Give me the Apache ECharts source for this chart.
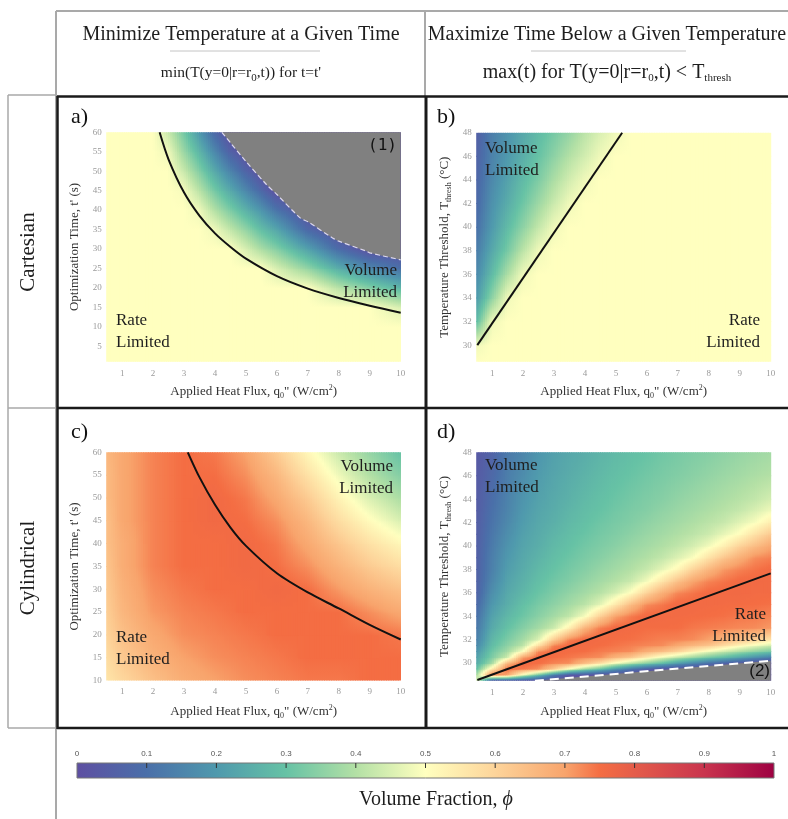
<!DOCTYPE html>
<html lang="en">
<head>
<meta charset="UTF-8">
<title>Volume fraction maps</title>
<script src="https://cdn.jsdelivr.net/npm/echarts@6/dist/echarts.min.js"></script>
<style>
  body { margin: 0; padding: 0; background: #fff; }
  #chart { width: 788px; height: 819px; }
</style>
</head>
<body>
<div id="chart"></div>
<script>
// colour scale for volume fraction
const cmapStops  = [0, 0.1, 0.2, 0.3, 0.4, 0.5, 0.6, 0.7, 0.75, 0.8, 0.9, 1];
const cmapColors = ['#5e4fa2', '#4a6fa9', '#4f99ad', '#66c2a5', '#b3e0a5', '#ffffbf',
                    '#fdd49a', '#f8a46c', '#f46d43', '#e45c4a', '#c9344e', '#9e0142'];
const cbarTickValues = [0.1, 0.2, 0.3, 0.4, 0.5, 0.6, 0.7, 0.8, 0.9];

// tick labels
const fluxTicks  = [1, 2, 3, 4, 5, 6, 7, 8, 9, 10];
const timeTicksA = [5, 10, 15, 20, 25, 30, 35, 40, 45, 50, 55, 60];
const timeTicksC = [10, 15, 20, 25, 30, 35, 40, 45, 50, 55, 60];
const tempTicks  = [30, 32, 34, 36, 38, 40, 42, 44, 46, 48];

// a) cartesian, fixed time  (rows bottom -> top, values at grid nodes)
const aX = [0.5, 1, 1.5, 2, 2.5, 3, 3.5, 4, 4.5, 5, 5.5, 6, 7, 8, 9, 10];
const aY = [1, 5, 10, 15, 20, 25, 30, 35, 40, 45, 50, 55, 60];
const aVals = [
  [.5,.5,.5,.5,.5,.5,.5,.5,.5,.5,.5,.5,.5,.5,.5,.5],
  [.5,.5,.5,.5,.5,.5,.5,.5,.5,.5,.5,.5,.5,.5,.5,.5],
  [.5,.5,.5,.5,.5,.5,.5,.5,.5,.5,.5,.5,.5,.5,.5,.5],
  [.5,.5,.5,.5,.5,.5,.5,.5,.5,.5,.5,.5,.5,.5,.5,.45],
  [.5,.5,.5,.5,.5,.5,.5,.5,.5,.5,.5,.5,.5,.41,.34,.27],
  [.5,.5,.5,.5,.5,.5,.5,.5,.5,.5,.5,.45,.36,.25,.16,.10],
  [.5,.5,.5,.5,.5,.5,.5,.5,.5,.45,.39,.34,.22,.09,0,0],
  [.5,.5,.5,.5,.5,.5,.5,.48,.42,.36,.29,.23,.08,0,0,0],
  [.5,.5,.5,.5,.5,.5,.48,.40,.33,.26,.19,.11,0,0,0,0],
  [.5,.5,.5,.5,.5,.49,.41,.32,.24,.16,.08,0,0,0,0,0],
  [.5,.5,.5,.5,.5,.43,.34,.24,.15,.07,0,0,0,0,0,0],
  [.5,.5,.5,.5,.48,.37,.27,.16,.06,0,0,0,0,0,0,0],
  [.5,.5,.5,.5,.43,.32,.20,.08,0,0,0,0,0,0,0,0]
];
const aOptimum = [[2.21,60],[2.5,53],[3,44.5],[3.5,38.5],[4,34],[4.5,30.5],[5,27.5],[6,23],[7,19.8],[8,17.4],[9,15.4],[10,13.6]];
const aNoSolution = [[4.22,60],[4.5,57.3],[5,52.5],[5.67,46.5],[6,44],[6.75,38],[7,37],[7.8,32.8],[8,32],[8.9,29.4],[9,29],[10,27.2]];

// b) cartesian, threshold temperature
const bX = [0.5, 1, 1.5, 2, 2.5, 3, 3.5, 4, 4.5, 5, 5.5, 6, 10];
const bY = [28.6, 30, 32, 34, 36, 38, 40, 42, 44, 46, 48];
const bVals = [
  [.5,.5,.5,.5,.5,.5,.5,.5,.5,.5,.5,.5,.5],
  [.48,.5,.5,.5,.5,.5,.5,.5,.5,.5,.5,.5,.5],
  [.28,.48,.5,.5,.5,.5,.5,.5,.5,.5,.5,.5,.5],
  [.20,.35,.48,.5,.5,.5,.5,.5,.5,.5,.5,.5,.5],
  [.16,.28,.39,.48,.5,.5,.5,.5,.5,.5,.5,.5,.5],
  [.13,.235,.32,.41,.48,.5,.5,.5,.5,.5,.5,.5,.5],
  [.10,.20,.28,.35,.42,.48,.5,.5,.5,.5,.5,.5,.5],
  [.08,.18,.245,.31,.37,.43,.48,.5,.5,.5,.5,.5,.5],
  [.07,.16,.22,.28,.33,.39,.44,.48,.5,.5,.5,.5,.5],
  [.06,.145,.20,.25,.30,.35,.40,.44,.48,.5,.5,.5,.5],
  [.05,.135,.185,.235,.28,.32,.36,.41,.45,.48,.5,.5,.5]
];
const bOptimum = [[0.52,30],[5.2,48]];

// c) cylindrical, fixed time
const cX = [0.5, 1, 2, 3, 4, 5, 6, 7, 8, 9, 10];
const cY = [10, 15, 20, 25, 30, 35, 40, 45, 50, 55, 60];
const cVals = [
  [.56,.59,.64,.68,.70,.72,.73,.74,.74,.75,.75],
  [.58,.62,.67,.70,.72,.73,.74,.75,.75,.75,.75],
  [.60,.64,.69,.72,.73,.74,.75,.75,.75,.75,.74],
  [.61,.66,.71,.73,.74,.75,.75,.75,.75,.72,.69],
  [.62,.67,.72,.74,.75,.75,.76,.75,.71,.67,.64],
  [.63,.68,.73,.75,.75,.76,.75,.72,.67,.62,.58],
  [.64,.68,.73,.75,.75,.76,.74,.69,.63,.57,.52],
  [.64,.69,.73,.75,.76,.75,.72,.66,.58,.51,.45],
  [.65,.69,.73,.75,.76,.74,.69,.62,.53,.45,.39],
  [.65,.69,.73,.75,.75,.72,.66,.57,.48,.40,.34],
  [.66,.69,.73,.75,.74,.70,.62,.52,.43,.36,.30]
];
const cOptimum = [[3.12,60],[3.5,54.5],[4,48.5],[4.5,43.5],[5,39.5],[6,33.5],[7,29.3],[8,25.8],[9,22.2],[10,19]];

// d) cylindrical, threshold temperature
const dX = [0.5, 1, 1.5, 2, 2.5, 3, 3.5, 4, 4.5, 5, 5.5, 6, 6.5, 7, 7.5, 8, 8.5, 9, 9.5, 10];
const dY = [28.5, 29, 29.5, 30, 30.5, 31, 31.5, 32, 33, 34, 35, 36, 37, 38, 39, 40, 41, 42, 43, 44, 46, 48];
const dVals = [
  [.48,0,0,0,0,0,0,0,0,0,0,0,0,0,0,0,0,0,0,0],
  [.38,.75,.70,.48,.307,.135,.03,.02,0,0,0,0,0,0,0,0,0,0,0,0],
  [.29,.55,.755,.74,.718,.62,.48,.37,.295,.19,.11,.05,.01,0,0,0,0,0,0,0],
  [.24,.38,.66,.76,.75,.73,.72,.65,.575,.48,.405,.34,.285,.21,.154,.10,.063,.03,0,0],
  [.22,.33,.432,.70,.758,.75,.741,.73,.721,.67,.627,.55,.478,.42,.37,.32,.281,.23,.18,.135],
  [.19,.31,.38,.50,.722,.76,.753,.75,.737,.73,.721,.68,.646,.60,.535,.48,.431,.39,.352,.32],
  [.16,.285,.349,.41,.573,.73,.759,.756,.751,.743,.734,.727,.722,.69,.659,.63,.578,.525,.479,.44],
  [.14,.27,.328,.38,.452,.62,.731,.76,.755,.75,.747,.74,.732,.73,.722,.70,.669,.64,.613,.56],
  [.12,.24,.296,.34,.38,.43,.537,.67,.736,.76,.756,.75,.751,.75,.74,.735,.73,.725,.722,.71],
  [.10,.22,.272,.31,.345,.38,.417,.49,.61,.70,.738,.76,.757,.755,.753,.75,.747,.74,.737,.73],
  [.079,.196,.249,.292,.324,.351,.38,.41,.463,.552,.65,.72,.74,.76,.758,.756,.754,.752,.75,.746],
  [.06,.175,.236,.27,.304,.33,.356,.38,.405,.445,.505,.60,.676,.725,.742,.757,.758,.76,.755,.755],
  [.057,.154,.223,.257,.289,.315,.335,.359,.38,.402,.43,.483,.56,.637,.695,.728,.743,.756,.759,.757],
  [.055,.14,.21,.244,.276,.30,.322,.34,.362,.38,.399,.425,.467,.52,.60,.66,.709,.73,.744,.756],
  [.052,.136,.198,.235,.262,.288,.308,.327,.343,.363,.38,.398,.42,.454,.495,.565,.629,.677,.72,.732],
  [.05,.127,.185,.226,.249,.277,.296,.316,.331,.346,.365,.38,.396,.416,.443,.482,.534,.60,.648,.69],
  [.047,.119,.172,.217,.242,.266,.287,.304,.321,.334,.35,.366,.38,.395,.412,.433,.47,.506,.568,.622],
  [.045,.11,.159,.207,.235,.254,.277,.294,.311,.325,.337,.353,.367,.38,.394,.41,.427,.46,.491,.54],
  [.042,.103,.149,.198,.228,.246,.268,.286,.30,.316,.329,.339,.355,.368,.38,.393,.407,.424,.45,.48],
  [.04,.095,.144,.189,.22,.24,.258,.278,.293,.307,.32,.332,.342,.357,.369,.38,.392,.405,.42,.442],
  [.035,.08,.134,.17,.206,.228,.245,.262,.278,.292,.304,.316,.327,.336,.347,.359,.37,.38,.391,.40],
  [.03,.062,.124,.152,.191,.217,.234,.247,.264,.279,.29,.30,.313,.323,.332,.34,.351,.362,.371,.38]
];
const dOptimum = [[0.52,28.56],[10,37.66]];
const dNoSolution = [[2.38,28.5],[10,30.2]];

const serif = '"Liberation Serif", "Times New Roman", serif';
const gray = '#808080';

function hexToRgb(h) {
  const n = parseInt(h.slice(1), 16);
  return [(n >> 16) & 255, (n >> 8) & 255, n & 255];
}
const cmapRgb = cmapColors.map(hexToRgb);

function colorAt(v) {
  if (!(v >= 0)) v = 0;
  if (v > 1) v = 1;
  let k = 0;
  while (k < cmapStops.length - 2 && v > cmapStops[k + 1]) k++;
  const t = (v - cmapStops[k]) / (cmapStops[k + 1] - cmapStops[k]);
  const a = cmapRgb[k], b = cmapRgb[k + 1];
  return 'rgb(' + [0, 1, 2].map(i => Math.round(a[i] + (b[i] - a[i]) * t)).join(',') + ')';
}

// one item per cell: x0, y0, x1, y1, then the 4 corner values
function buildCells(xs, ys, vals) {
  const out = [];
  for (let j = 0; j < ys.length - 1; j++) {
    for (let i = 0; i < xs.length - 1; i++) {
      out.push([xs[i], ys[j], xs[i + 1], ys[j + 1],
        vals[j][i] || 0, vals[j][i + 1] || 0, vals[j + 1][i] || 0, vals[j + 1][i + 1] || 0]);
    }
  }
  return out;
}

// shade a cell between its corner values (narrow strips, each a vertical gradient)
function renderCell(params, api) {
  const pa = api.coord([api.value(0), api.value(1)]);
  const pb = api.coord([api.value(2), api.value(3)]);
  const v00 = api.value(4), v10 = api.value(5), v01 = api.value(6), v11 = api.value(7);
  const W = pb[0] - pa[0], H = pa[1] - pb[1];
  const n = Math.max(1, Math.ceil(W / 2.5));
  const children = [];
  for (let s = 0; s < n; s++) {
    const u = (s + 0.5) / n;
    const vb = v00 + (v10 - v00) * u;
    const vt = v01 + (v11 - v01) * u;
    let fill;
    if (Math.abs(vt - vb) < 0.003) {
      fill = colorAt((vt + vb) / 2);
    } else {
      const stops = [];
      for (let k = 0; k <= 6; k++) stops.push({ offset: k / 6, color: colorAt(vt + (vb - vt) * k / 6) });
      fill = { type: 'linear', x: 0, y: 0, x2: 0, y2: 1, colorStops: stops };
    }
    const xl = pa[0] + W * s / n;
    children.push({
      type: 'rect',
      shape: { x: xl - 0.5, y: pb[1] - 0.5, width: W / n + 1, height: H + 1 },
      style: { fill: fill }
    });
  }
  return { type: 'group', children: children };
}

function renderBar(params, api) {
  const pa = api.coord([api.value(0), api.value(1)]);
  const pb = api.coord([api.value(2), api.value(3)]);
  const children = [{
    type: 'rect',
    shape: { x: pa[0], y: pb[1], width: pb[0] - pa[0], height: pa[1] - pb[1] },
    style: {
      fill: { type: 'linear', x: 0, y: 0, x2: 1, y2: 0,
              colorStops: cmapStops.map((s, i) => ({ offset: s, color: cmapColors[i] })) },
      stroke: '#777', lineWidth: 1
    }
  }];
  cbarTickValues.forEach(v => {
    const p = api.coord([v, 1]);
    children.push({ type: 'line', shape: { x1: p[0], y1: p[1], x2: p[0], y2: p[1] + 5 },
                    style: { stroke: '#333', lineWidth: 1 } });
  });
  return { type: 'group', children: children };
}

const subRich = {
  s: { fontSize: 8, fontFamily: serif, verticalAlign: 'bottom', color: '#333' },
  p: { fontSize: 8, fontFamily: serif, verticalAlign: 'top', color: '#333' }
};

function panelX(idx, gap) {
  return {
    gridIndex: idx, type: 'value', min: 0.5, max: 10,
    axisLine: { show: false }, axisTick: { show: false }, splitLine: { show: false },
    axisLabel: { customValues: fluxTicks, color: '#9a9a9a', fontFamily: serif, fontSize: 9, margin: 7 },
    name: 'Applied Heat Flux, q{s|0}" (W/cm{p|2})', nameLocation: 'middle', nameGap: gap,
    nameTextStyle: { color: '#333', fontFamily: serif, fontSize: 13, lineHeight: 16, rich: subRich }
  };
}

function panelY(idx, min, max, ticks, name) {
  return {
    gridIndex: idx, type: 'value', min: min, max: max,
    axisLine: { show: false }, axisTick: { show: false }, splitLine: { show: false },
    axisLabel: { customValues: ticks, color: '#9a9a9a', fontFamily: serif, fontSize: 9, margin: 5 },
    name: name, nameLocation: 'middle', nameGap: 24,
    nameTextStyle: { color: '#333', fontFamily: serif, fontSize: 13, lineHeight: 16, rich: subRich }
  };
}

function cellSeries(idx, xs, ys, vals) {
  return {
    type: 'custom', xAxisIndex: idx, yAxisIndex: idx, silent: true, z: 1, clip: true,
    renderItem: renderCell, encode: { x: [0, 2], y: [1, 3] },
    data: buildCells(xs, ys, vals)
  };
}

function curve(idx, data) {
  return {
    type: 'line', xAxisIndex: idx, yAxisIndex: idx, data: data, smooth: 0.3,
    symbol: 'none', silent: true, z: 5,
    lineStyle: { color: '#111', width: 2 }
  };
}

function text(x, y, str, align, opts) {
  opts = opts || {};
  return {
    type: 'text', x: x, y: y, z: 50, rotation: opts.rotation || 0,
    style: {
      text: str, fontFamily: opts.family || serif, fontSize: opts.size || 17,
      fontStyle: 'normal', fill: opts.color || '#1e1e1e',
      textAlign: align, textVerticalAlign: 'middle', lineHeight: opts.lineHeight || 22,
      rich: opts.rich
    }
  };
}

function hline(x1, x2, y, color, w) {
  return { type: 'line', z: 40, shape: { x1: x1, y1: y, x2: x2, y2: y }, style: { stroke: color, lineWidth: w } };
}
function vline(x, y1, y2, color, w) {
  return { type: 'line', z: 40, shape: { x1: x, y1: y1, x2: x, y2: y2 }, style: { stroke: color, lineWidth: w } };
}

const tableGray = '#a9a9a9', tableBlack = '#1a1a1a';
const headSub = { s: { fontSize: 11, fontFamily: serif, verticalAlign: 'bottom', fill: '#1e1e1e' } };

const graphics = [
  hline(56, 790, 11, tableGray, 2),
  vline(56, 11, 819, tableGray, 2),
  vline(425, 11, 96, tableGray, 2),
  vline(8, 95, 728, tableGray, 1.5),
  hline(8, 56, 95, tableGray, 1.5),
  hline(8, 56, 408, tableGray, 1.5),
  hline(8, 56, 728, tableGray, 1.5),
  hline(57, 790, 96.5, tableBlack, 2.5),
  vline(57.5, 96, 729, tableBlack, 2.5),
  vline(426, 96, 729, tableBlack, 3),
  hline(57, 790, 408, tableBlack, 2.5),
  hline(57, 790, 728, tableBlack, 2.5),
  hline(170, 320, 51, '#c4c4c4', 1),
  hline(531, 686, 51, '#c4c4c4', 1),

  text(241, 35, 'Minimize Temperature at a Given Time', 'center', { size: 20 }),
  text(607, 35, 'Maximize Time Below a Given Temperature', 'center', { size: 20 }),
  text(241, 73, "min(T(y=0|r=r{s|0},t)) for t=t'", 'center', { size: 15.5, rich: headSub }),
  text(607, 73, 'max(t) for T(y=0|r=r{s|0},t) < T{s|thresh}', 'center', { size: 20, rich: headSub }),

  text(28, 252, 'Cartesian', 'center', { size: 21, rotation: Math.PI / 2 }),
  text(28, 568, 'Cylindrical', 'center', { size: 21, rotation: Math.PI / 2 }),

  text(71, 117, 'a)', 'left', { size: 22, color: '#111' }),
  text(437, 117, 'b)', 'left', { size: 22, color: '#111' }),
  text(71, 432, 'c)', 'left', { size: 22, color: '#111' }),
  text(437, 432, 'd)', 'left', { size: 22, color: '#111' }),

  text(397, 281.5, 'Volume\nLimited', 'right'),
  text(116, 332, 'Rate\nLimited', 'left'),
  text(397, 146, '(1)', 'right', { size: 16, family: '"DejaVu Sans Mono", monospace', color: '#111' }),

  text(485, 160, 'Volume\nLimited', 'left'),
  text(760, 332, 'Rate\nLimited', 'right'),

  text(393, 477.5, 'Volume\nLimited', 'right'),
  text(116, 648.5, 'Rate\nLimited', 'left'),

  text(485, 476.5, 'Volume\nLimited', 'left'),
  text(766, 626, 'Rate\nLimited', 'right'),
  text(770, 671.5, '(2)', 'right', { size: 17, family: '"Liberation Sans", sans-serif', color: '#111' }),

  text(436, 800, 'Volume Fraction, {i|ϕ}', 'center', {
    size: 20, rich: { i: { fontSize: 20, fontFamily: serif, fontStyle: 'italic', fill: '#1e1e1e' } }
  })
];

const chart = echarts.init(document.getElementById('chart'), null, { renderer: 'canvas' });

chart.setOption({
  animation: false,
  backgroundColor: '#fff',
  grid: [
    { left: 106.7, top: 132.3, width: 294, height: 229.4, outerBoundsMode: 'none', containLabel: false },
    { left: 476.7, top: 132.7, width: 294, height: 229, outerBoundsMode: 'none', containLabel: false },
    { left: 106.7, top: 452.3, width: 294, height: 228.3, outerBoundsMode: 'none', containLabel: false },
    { left: 476.7, top: 452.3, width: 294, height: 228.4, outerBoundsMode: 'none', containLabel: false },
    { left: 77, top: 763, width: 697, height: 15, outerBoundsMode: 'none', containLabel: false }
  ],
  xAxis: [
    panelX(0, 22),
    panelX(1, 22),
    panelX(2, 23),
    panelX(3, 23),
    {
      gridIndex: 4, type: 'value', min: 0, max: 1, interval: 0.1, position: 'top',
      axisLine: { show: false }, splitLine: { show: false }, axisTick: { show: false },
      axisLabel: { color: '#555', fontFamily: '"Liberation Sans", Arial, sans-serif', fontSize: 8, margin: 5 }
    }
  ],
  yAxis: [
    panelY(0, 1, 60, timeTicksA, "Optimization Time, t' (s)"),
    panelY(1, 28.6, 48, tempTicks, 'Temperature Threshold, T{s|thresh} (°C)'),
    panelY(2, 10, 60, timeTicksC, "Optimization Time, t' (s)"),
    panelY(3, 28.5, 48, tempTicks, 'Temperature Threshold, T{s|thresh} (°C)'),
    { gridIndex: 4, type: 'value', min: 0, max: 1, show: false }
  ],
  series: [
    cellSeries(0, aX, aY, aVals),
    {
      type: 'line', xAxisIndex: 0, yAxisIndex: 0, data: aNoSolution, smooth: 0.3,
      symbol: 'none', silent: true, z: 4,
      lineStyle: { color: '#dcd8ee', width: 1.2, type: [5, 3] },
      areaStyle: { color: gray, opacity: 1, origin: 'end' }
    },
    curve(0, aOptimum),

    cellSeries(1, bX, bY, bVals),
    curve(1, bOptimum),

    cellSeries(2, cX, cY, cVals),
    curve(2, cOptimum),

    cellSeries(3, dX, dY, dVals),
    {
      type: 'line', xAxisIndex: 3, yAxisIndex: 3, data: dNoSolution,
      symbol: 'none', silent: true, z: 4,
      lineStyle: { color: '#ffffff', width: 2, type: [9, 6] },
      areaStyle: { color: gray, opacity: 1, origin: 'start' }
    },
    curve(3, dOptimum),

    {
      type: 'custom', xAxisIndex: 4, yAxisIndex: 4, silent: true, z: 1,
      renderItem: renderBar, encode: { x: [0, 2], y: [1, 3] },
      data: [[0, 0, 1, 1]]
    }
  ],
  graphic: { elements: graphics }
});
</script>
</body>
</html>
